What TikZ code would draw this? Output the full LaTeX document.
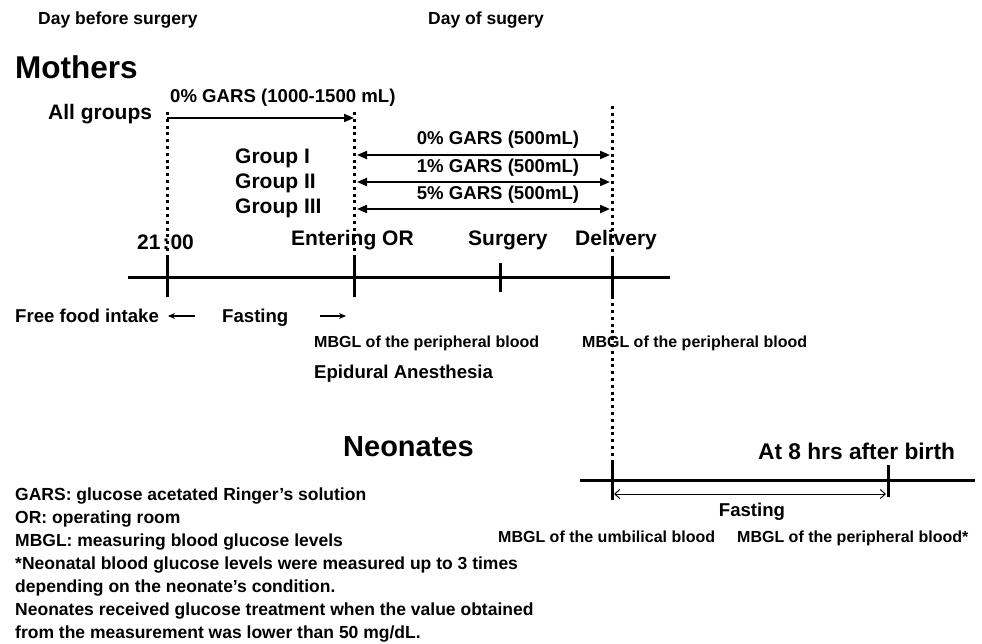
\documentclass[tikz,border=0pt]{standalone}
\usepackage{fontspec}
\setmainfont{Liberation Sans}
\usetikzlibrary{arrows.meta,positioning}

\newcommand{\fs}[1]{\fontsize{#1}{#1}\selectfont\bfseries}

\begin{document}
\begin{tikzpicture}[x=1pt,y=-1pt,
  every node/.style={inner sep=0pt,anchor=base west},
  head/.style={font=\fs{17.5}},
  title/.style={font=\fs{31.5}},
  big/.style={font=\fs{21}},
  mid/.style={font=\fs{18.6}},
  small/.style={font=\fs{16}},
  axis/.style={line width=3pt},
  tick/.style={line width=3pt},
  dots/.style={line width=3pt,dash pattern=on 3pt off 3.8pt},
  infuse/.style={line width=2pt,-{Triangle[length=10pt,width=8pt]}},
  both/.style={line width=2pt,{Triangle[length=10pt,width=8pt]}-{Triangle[length=10pt,width=8pt]}},
  thin/.style={line width=1pt,{Straight Barb[length=5pt,width=9pt]}-{Straight Barb[length=5pt,width=9pt]}},
  pointer/.style={line width=1.3pt,-{Stealth[length=7pt,width=6pt]}}]
\useasboundingbox (0,0) rectangle (982,644);

% headings
\node[head] (before) at (38,25) {Day before surgery};
\node[head] (dayof) at (428,25) {Day of sugery};
\node[title] (mothers) at (15,79) {Mothers};

% mothers time line
\coordinate (m0) at (128,278);
\coordinate (m1) at (670,278);
\coordinate (t21) at (167,278);
\coordinate (tor) at (354,278);
\coordinate (tsu) at (500,278);
\coordinate (tde) at (612,278);
\draw[axis] (m0) -- (m1);
\draw[tick] ([yshift=20]t21) -- ([yshift=-19]t21);
\draw[tick] ([yshift=20]tor) -- ([yshift=-19]tor);
\draw[tick] ([yshift=15]tsu) -- ([yshift=-14]tsu);
\draw[tick] ([yshift=20]tde) -- ([yshift=-20]tde);

\node[big] (c21) at (137,250) {21\kern2pt:\kern1pt00};
\node[big] (cor) at (291,246) {Entering OR};
\node[big] (csu) at (468,246) {Surgery};
\node[big] (cde) at (575,246) {Delivery};

% dotted guides
\coordinate (d21) at (167,112);
\coordinate (dor) at (354,112);
\coordinate (dde) at (612,106);
\coordinate (nde) at (612,460);
\draw[dots] (d21) -- ([yshift=20]t21);
\draw[dots] (dor) -- ([yshift=20]tor);
\draw[dots] (dde) -- (nde);

% infusions
\node[big] (all) at (48,120) {All groups};
\node[mid] (gall) at (170,103) {0\% GARS (1000-1500 mL)};
\coordinate (a0) at (167,118);
\coordinate (a1) at (354,118);
\draw[infuse] (a0) -- (a1);

\node[big] (g1) at (235,164) {Group I};
\node[big] (g2) at (235,189) {Group II};
\node[big] (g3) at (235,214) {Group III};
\foreach \y/\p/\b [count=\i] in {155/0/145,182/1/173,209/5/200}{
  \coordinate (s\i) at (357,\y);
  \coordinate (e\i) at (610,\y);
  \draw[both] (s\i) -- (e\i);
  \node[mid,anchor=base] (r\i) at (498,\b) {\p\% GARS (500mL)};
}

% below the time line
\node[mid] (free) at (15,322) {Free food intake};
\node[mid] (fast) at (222,322) {Fasting};
\coordinate (fl0) at (195,316);
\coordinate (fl1) at (168,316);
\coordinate (fr0) at (320,316);
\coordinate (fr1) at (346,316);
\draw[pointer] (fl0) -- (fl1);
\draw[pointer] (fr0) -- (fr1);
\node[small] (pb1) at (314,347) {MBGL of the peripheral blood};
\node[small] (pb2) at (582,347) {MBGL of the peripheral blood};
\node[mid] (epi) at (314,378) {Epidural Anesthesia};

% neonates
\node[title,font=\fs{29}] (neo) at (343,456) {Neonates};
\node[big,font=\fs{22.7}] (eight) at (758,459) {At 8 hrs after birth};
\coordinate (n0) at (580,480);
\coordinate (n1) at (975,480);
\coordinate (nb) at (612,480);
\coordinate (n8) at (888,480);
\draw[axis] (n0) -- (n1);
\draw[tick] ([yshift=20]nb) -- ([yshift=-20]nb);
\draw[tick] ([yshift=15]n8) -- ([yshift=-17]n8);
\coordinate (f0) at (614,494);
\coordinate (f1) at (886,494);
\draw[thin] (f0) -- (f1);
\node[mid,anchor=base] (nfast) at (752,516) {Fasting};
\node[small] (ub) at (498,542) {MBGL of the umbilical blood};
\node[small] (pb3) at (737,542) {MBGL of the peripheral blood*};

% notes
\node[font=\fontsize{17.5}{23}\selectfont\bfseries,align=left,anchor=north west] (notes) at (15,488)
  {GARS: glucose acetated Ringer’s solution\\
   OR: operating room\\
   MBGL: measuring blood glucose levels\\
   *Neonatal blood glucose levels were measured up to 3 times\\
   depending on the neonate’s condition.\\
   Neonates received glucose treatment when the value obtained\\
   from the measurement was lower than 50 mg/dL.};
\end{tikzpicture}
\end{document}
